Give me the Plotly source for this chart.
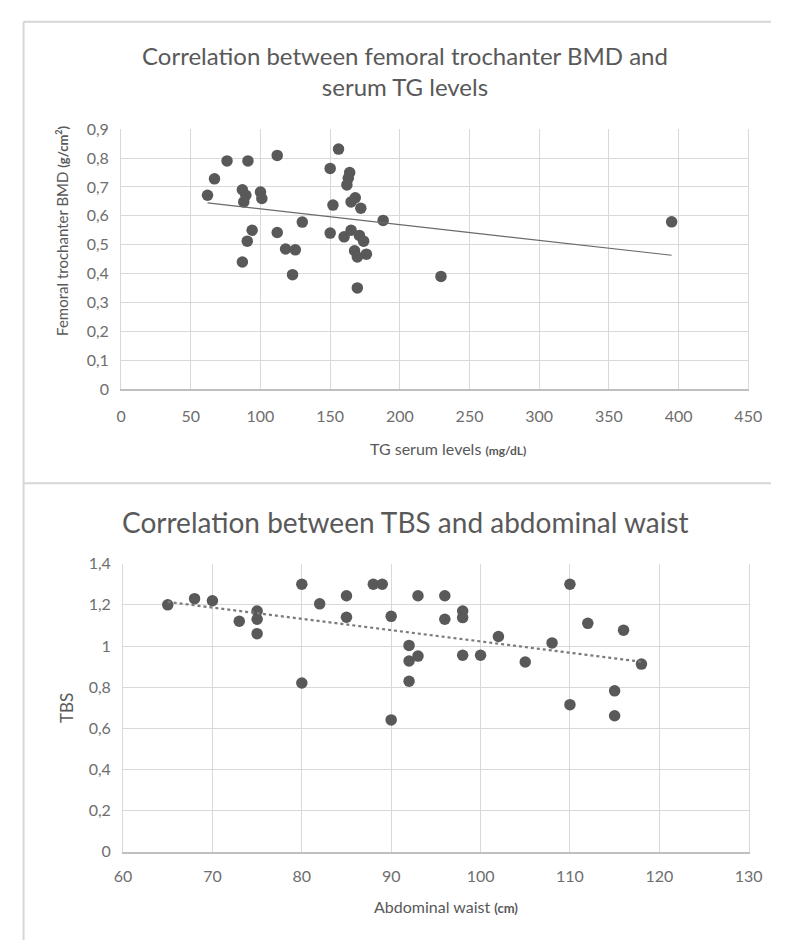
import numpy as np
import plotly.graph_objects as go

# ---------------- data: top chart (TG vs femoral trochanter BMD) ----------------
tg_levels = [62, 67, 76, 91, 112, 156, 150, 164, 163, 162, 87, 89.5, 88, 100, 101,
             168, 165, 172, 152, 130, 188, 94, 90.5, 112, 150, 160, 165, 171, 174,
             118, 125, 167.5, 169.5, 176, 87, 123, 169.5, 229.5, 395]
bmd_values = [0.671, 0.728, 0.790, 0.790, 0.809, 0.831, 0.764, 0.750, 0.730, 0.707,
              0.690, 0.671, 0.648, 0.682, 0.660, 0.662, 0.648, 0.626, 0.637, 0.578,
              0.584, 0.550, 0.512, 0.542, 0.540, 0.527, 0.550, 0.532, 0.512, 0.485,
              0.482, 0.479, 0.457, 0.467, 0.440, 0.396, 0.350, 0.390, 0.579]

# ---------------- data: bottom chart (abdominal waist vs TBS) ----------------
waist_cm = [65, 68, 70, 73, 75, 75, 75, 80, 80, 82, 85, 85, 88, 89, 90, 90,
            92, 92, 92, 93, 93, 96, 96, 98, 98, 98, 100, 102, 105, 108, 110, 110,
            112, 115, 115, 116, 118]
tbs_values = [1.20, 1.23, 1.22, 1.12, 1.17, 1.13, 1.06, 1.30, 0.82, 1.205, 1.244, 1.14,
              1.30, 1.30, 1.144, 0.641, 1.003, 0.927, 0.829, 1.244, 0.951, 1.244, 1.13,
              1.17, 1.138, 0.955, 0.955, 1.046, 0.922, 1.015, 1.30, 0.715, 1.11, 0.782,
              0.661, 1.077, 0.912]

top_title = "Correlation between femoral trochanter BMD and<br>serum TG levels"
bottom_title = "Correlation between TBS and abdominal waist"
top_xlabel = "TG serum levels <span style='font-size:12px'><b>(mg/dL)</b></span>"
top_ylabel = "Femoral trochanter BMD <span style='font-size:13px'><b>(g/cm<sup>2</sup>)</b></span>"
bottom_xlabel = "Abdominal waist <span style='font-size:13px'><b>(cm)</b></span>"
bottom_ylabel = "TBS"

W, H = 785, 949
FONT = "Lato"
DARK = "#595959"
TICK = "#6e6e6e"
GRID = "#d9d9d9"


def px(x):
    return x / W


def py(y):
    return 1 - y / H


fig = go.Figure()

# scatter markers
fig.add_trace(go.Scatter(x=tg_levels, y=bmd_values, mode="markers",
                         marker=dict(size=11.5, color=DARK), xaxis="x", yaxis="y",
                         showlegend=False, hoverinfo="x+y"))
fig.add_trace(go.Scatter(x=waist_cm, y=tbs_values, mode="markers",
                         marker=dict(size=11.5, color=DARK), xaxis="x2", yaxis="y2",
                         showlegend=False, hoverinfo="x+y"))

# linear trendlines from data
a1, b1 = np.polyfit(tg_levels, bmd_values, 1)
tx = [min(tg_levels), max(tg_levels)]
fig.add_trace(go.Scatter(x=tx, y=[a1 * v + b1 for v in tx], mode="lines",
                         line=dict(color="#6a6a6a", width=1.2), xaxis="x", yaxis="y",
                         showlegend=False, hoverinfo="skip"))
a2, b2 = np.polyfit(waist_cm, tbs_values, 1)
wx = [min(waist_cm), max(waist_cm)]
fig.add_trace(go.Scatter(x=wx, y=[a2 * v + b2 for v in wx], mode="lines",
                         line=dict(color="#7a7a7a", width=2.2, dash="dot"),
                         xaxis="x2", yaxis="y2", showlegend=False, hoverinfo="skip"))

xcommon = dict(showgrid=True, gridcolor=GRID, gridwidth=1, zeroline=False,
               showline=True, linecolor="#bfbfbf", linewidth=1.5, mirror=False,
               ticks="", tickfont=dict(family=FONT, size=16, color=TICK), fixedrange=True)
ycommon = dict(showgrid=True, gridcolor=GRID, gridwidth=1, zeroline=False,
               showline=True, linecolor=GRID, linewidth=1, mirror=True,
               ticks="", tickfont=dict(family=FONT, size=16, color=TICK), fixedrange=True)

fig.update_layout(
    width=W, height=H,
    margin=dict(l=0, r=0, t=0, b=0),
    paper_bgcolor="white", plot_bgcolor="white",
    separators=", ",
    font=dict(family=FONT, color=DARK),
    xaxis=dict(domain=[px(115.5), px(761.6)], range=[0, 450], dtick=50, anchor="y",
               ticklabelstandoff=12, **xcommon),
    yaxis=dict(domain=[py(386.7), py(121.6)], range=[0, 0.9], dtick=0.1, anchor="x",
               ticklabelstandoff=8, **ycommon),
    xaxis2=dict(domain=[px(117.5), px(762)], range=[60, 130], dtick=10, anchor="y2",
                ticklabelstandoff=9, **xcommon),
    yaxis2=dict(domain=[py(859), py(565)], range=[0, 1.4], dtick=0.2, anchor="x2",
                ticklabelstandoff=8, **ycommon),
)

# panel borders
border = dict(color="#d6d6d6", width=2)
fig.add_shape(type="line", xref="paper", yref="paper", x0=px(15), x1=px(15),
              y0=0, y1=py(12), line=border)
fig.add_shape(type="line", xref="paper", yref="paper", x0=px(15), x1=1,
              y0=py(12), y1=py(12), line=border)
fig.add_shape(type="line", xref="paper", yref="paper", x0=px(15), x1=1,
              y0=py(483), y1=py(483), line=border)

annotations = [
    dict(text=top_title, x=px(408), y=py(62), font=dict(size=24, color=DARK, family=FONT)),
    dict(text=bottom_title, x=px(408), y=py(522), font=dict(size=28, color=DARK, family=FONT)),
    dict(text=top_xlabel, x=px(452), y=py(447), font=dict(size=16, color=DARK, family=FONT)),
    dict(text=bottom_xlabel, x=px(450), y=py(915), font=dict(size=16, color=DARK, family=FONT)),
    dict(text=top_ylabel, x=px(55), y=py(225), textangle=-90,
         font=dict(size=15, color=DARK, family=FONT)),
    dict(text=bottom_ylabel, x=px(60), y=py(712), textangle=-90,
         font=dict(size=17, color=DARK, family=FONT)),
]
for a in annotations:
    a.update(xref="paper", yref="paper", showarrow=False, xanchor="center", yanchor="middle")
fig.update_layout(annotations=annotations)

fig.write_html("out.html", config={"displayModeBar": False},
               post_script="document.body.style.margin='0';"
                           "document.body.style.overflow='hidden';"
                           "document.documentElement.style.overflow='hidden';")
